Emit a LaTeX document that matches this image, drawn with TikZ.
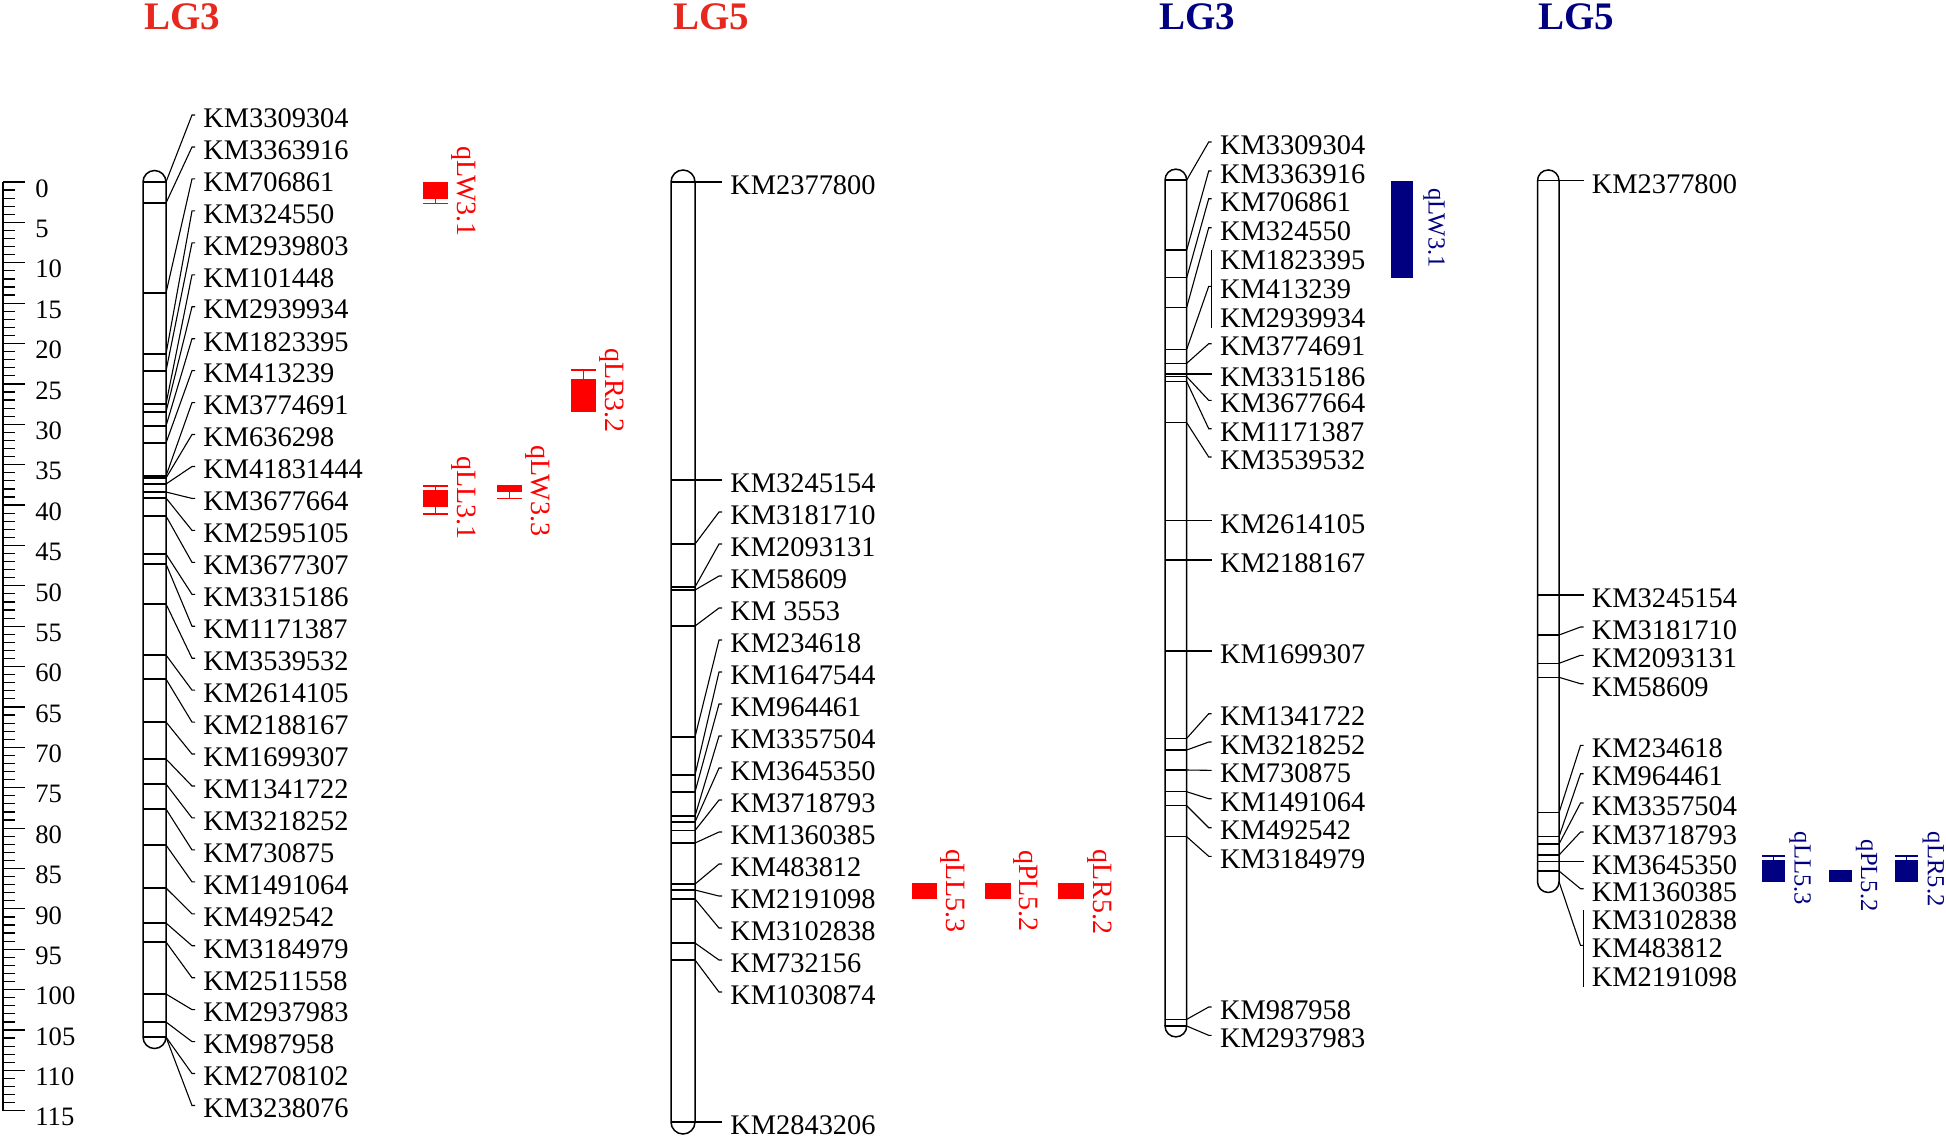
\documentclass[tikz,border=0pt]{standalone}
\usepackage{fontspec}
\setmainfont{Liberation Serif}
\usepackage{xcolor}

\definecolor{titlered}{RGB}{230,40,30}
\definecolor{qtlred}{RGB}{255,0,0}
\definecolor{qtlblue}{RGB}{0,0,128}

\tikzset{
  chrom/.style={line width=0.75pt},
  band/.style={line width=0.6pt},
  conn/.style={line width=0.55pt},
  marker/.style={font=\fontsize{14.2}{17}\selectfont, inner xsep=4pt, inner ysep=0pt, anchor=west},
  axislabel/.style={font=\fontsize{13.3}{15}\selectfont, inner sep=0pt, anchor=west},
  lgtitle/.style={font=\fontsize{19.5}{22}\selectfont\bfseries, inner sep=0pt, anchor=base},
  redqtl/.style={fill=qtlred, draw=none},
  bluqtl/.style={fill=qtlblue, draw=none},
  redwhisk/.style={draw=qtlred, line width=0.55pt},
  bluwhisk/.style={draw=qtlblue, line width=0.55pt},
  redqtllabel/.style={font=\fontsize{14}{16}\selectfont, text=qtlred, inner sep=0pt, rotate=-90},
  bluqtllabel/.style={font=\fontsize{12.3}{14}\selectfont, text=qtlblue, inner sep=0pt, rotate=-90}
}

\begin{document}
\begin{tikzpicture}[x=0.5pt, y=-0.5pt]
    \useasboundingbox (0,0) rectangle (1946,1137);

    % titles
    \node[lgtitle, text=titlered] (tLGthreeR) at (182, 29.3) {LG3};
    \node[lgtitle, text=titlered] (tLGfiveR) at (711, 29.3) {LG5};
    \node[lgtitle, text=qtlblue] (tLGthreeB) at (1197, 29.3) {LG3};
    \node[lgtitle, text=qtlblue] (tLGfiveB) at (1576, 29.3) {LG5};

    % cM scale
    \draw [chrom] (3, 182) -- (3, 1110.7);
    \foreach \t in {0,...,115}
      \draw [band] (3, {182+8.076*\t}) -- (15, {182+8.076*\t});
    \foreach \t in {0,5,...,115} {
      \draw [band] (3, {182+8.076*\t}) -- (25, {182+8.076*\t});
      \node[axislabel] (ax\t) at (35, {188.5+8.076*\t}) {\t};
    }

    % LG3 (red)
    \draw [chrom] (143, 1037) -- (143, 182)
      arc[start angle=180, end angle=360, radius=11.5] -- (166, 1037)
      arc[start angle=0, end angle=180, radius=11.5] -- cycle;
    \foreach \i/\my/\ly/\name in {
      1/182/118/KM3309304, 2/203/150/KM3363916, 3/293/181.9/KM706861,
      4/354/213.9/KM324550, 5/371/245.8/KM2939803, 6/404/277.8/KM101448,
      7/412/309.7/KM2939934, 8/426/341.7/KM1823395, 9/443/373.6/KM413239,
      10/476/405.6/KM3774691, 11/478/437.5/KM636298, 12/484/469.5/KM41831444,
      13/492/501.4/KM3677664, 14/498/533.4/KM2595105, 15/516/565.3/KM3677307,
      16/554/597.3/KM3315186, 17/564/629.2/KM1171387, 18/604/661.2/KM3539532,
      19/655/693.1/KM2614105, 20/679/725.1/KM2188167, 21/722/757/KM1699307,
      22/759/789/KM1341722, 23/784/820.9/KM3218252, 24/809/852.9/KM730875,
      25/845/884.8/KM1491064, 26/888/916.8/KM492542, 27/923/948.7/KM3184979,
      28/942/980.7/KM2511558, 29/994/1012.6/KM2937983, 30/1022/1044.6/KM987958,
      31/1037/1076.5/KM2708102, 32/1037/1108.5/KM3238076} {
      \coordinate (r3m\i) at (166, \my);
      \node[marker] (r3l\i) at (195, \ly) {\name};
      \draw [band] (143, \my) -- (r3m\i);
      \draw [conn] (r3m\i) -- ([xshift=-1.5pt, yshift=1.5pt]r3l\i.west)
        -- ([yshift=1.5pt]r3l\i.west);
    }

    % QTL on LG3 (red)
    \fill [redqtl] (422.7, 181.7) rectangle (447.7, 199);
    \draw [redwhisk] (435.2, 199) -- (435.2, 203.7) (422.7, 203.7) -- (447.7, 203.7);
    \node[redqtllabel] (rqLWthreeone) at (464.2, 191.7) {qLW3.1};

    \fill [redqtl] (571, 379) rectangle (595.7, 412.3);
    \draw [redwhisk] (583.3, 379) -- (583.3, 370) (571, 370) -- (595.7, 370);
    \node[redqtllabel] (rqLRthreetwo) at (611.5, 390.5) {qLR3.2};

    \fill [redqtl] (497.3, 485) rectangle (521.7, 491.7);
    \draw [redwhisk] (509.5, 491.7) -- (509.5, 498.3) (497.3, 498.3) -- (521.7, 498.3);
    \node[redqtllabel] (rqLWthreethree) at (537.5, 491) {qLW3.3};

    \fill [redqtl] (423.3, 490) rectangle (448.3, 506.7);
    \draw [redwhisk] (435.8, 486) -- (435.8, 514)
      (423.3, 486) -- (448.3, 486) (423.3, 514) -- (448.3, 514);
    \node[redqtllabel] (rqLLthreeone) at (464.2, 498) {qLL3.1};

    % LG5 (red)
    \draw [chrom] (671, 1122) -- (671, 182)
      arc[start angle=180, end angle=360, radius=12] -- (695, 1122)
      arc[start angle=0, end angle=180, radius=12] -- cycle;
    \foreach \i/\my/\ly/\name in {
      1/182/185/KM2377800, 2/480/483/KM3245154, 3/544/515/KM3181710,
      4/587/547/KM2093131, 5/590/579/KM58609, 6/626/611/{KM 3553},
      7/737/643/KM234618, 8/775/675/KM1647544, 9/792/707/KM964461,
      10/816/739/KM3357504, 11/822/771/KM3645350, 12/830.5/803/KM3718793,
      13/843/835/KM1360385, 14/884/867/KM483812, 15/890/899/KM2191098,
      16/899/931/KM3102838, 17/943/963/KM732156, 18/960/995/KM1030874,
      19/1122/1125/KM2843206} {
      \coordinate (r5m\i) at (695, \my);
      \node[marker] (r5l\i) at (722, \ly) {\name};
      \draw [band] (671, \my) -- (r5m\i);
      \draw [conn] (r5m\i) -- ([xshift=-1.5pt, yshift=1.5pt]r5l\i.west)
        -- ([yshift=1.5pt]r5l\i.west);
    }

    % QTL on LG5 (red)
    \fill [redqtl] (911.7, 883) rectangle (936.7, 899);
    \node[redqtllabel] (rqLLfivethree) at (952.5, 891) {qLL5.3};
    \fill [redqtl] (985, 883) rectangle (1010.7, 899);
    \node[redqtllabel] (rqPLfivetwo) at (1025.8, 891) {qPL5.2};
    \fill [redqtl] (1058.3, 883) rectangle (1084.3, 899);
    \node[redqtllabel] (rqLRfivetwo) at (1100, 891.7) {qLR5.2};

    % LG3 (blue)
    \draw [chrom] (1165, 1026) -- (1165, 180)
      arc[start angle=180, end angle=360, radius=10.85] -- (1186.7, 1026)
      arc[start angle=0, end angle=180, radius=10.85] -- cycle;
    \foreach \i/\my/\ly/\name in {
      1/180/145/KM3309304, 2/250/174/KM3363916, 3/277.7/201.7/KM706861,
      4/307.3/230.7/KM324550, 8/363.3/346.7/KM3774691, 9/374/377/KM3315186,
      10/376.7/403.3/KM3677664, 11/381.7/431.7/KM1171387, 12/422.7/460/KM3539532,
      13/520.7/523.7/KM2614105, 14/560/563/KM2188167, 15/651/654/KM1699307,
      16/738.3/716.7/KM1341722, 17/750/745/KM3218252, 18/770/773.3/KM730875,
      19/791.7/801.7/KM1491064, 20/805.7/830.7/KM492542, 21/836.7/859.3/KM3184979,
      22/1019.3/1010/KM987958, 23/1026/1038.3/KM2937983} {
      \coordinate (b3m\i) at (1186.7, \my);
      \node[marker] (b3l\i) at (1211.7, \ly) {\name};
      \draw [band] (1165, \my) -- (b3m\i);
      \draw [conn] (b3m\i) -- ([xshift=-1.5pt, yshift=1.5pt]b3l\i.west)
        -- ([yshift=1.5pt]b3l\i.west);
    }
    % three markers at one locus
    \coordinate (b3m5) at (1186.7, 349.3);
    \draw [band] (1165, 349.3) -- (b3m5);
    \node[marker] (b3l5) at (1211.7, 260) {KM1823395};
    \node[marker] (b3l6) at (1211.7, 289.3) {KM413239};
    \node[marker] (b3l7) at (1211.7, 318.3) {KM2939934};
    \draw [conn] (b3l5.north west) -- (b3l7.south west);
    \draw [conn] (b3m5) -- ([xshift=-1.5pt, yshift=1.5pt]b3l6.west)
      -- ([yshift=1.5pt]b3l6.west);

    % QTL on LG3 (blue)
    \fill [bluqtl] (1390.7, 180.7) rectangle (1413.3, 277.7);
    \node[bluqtllabel] (bqLWthreeone) at (1434, 228) {qLW3.1};

    % LG5 (blue)
    \draw [chrom] (1537.5, 881.7) -- (1537.5, 180.7)
      arc[start angle=180, end angle=360, radius=10.75] -- (1559, 881.7)
      arc[start angle=0, end angle=180, radius=10.75] -- cycle;
    \foreach \i/\my/\ly/\name in {
      1/180.7/183.7/KM2377800, 2/595/598/KM3245154, 3/635/630/KM3181710,
      4/663.3/658.3/KM2093131, 5/677.3/686.7/KM58609, 6/812.7/748.3/KM234618,
      7/836.7/776.7/KM964461, 8/844/806/KM3357504, 9/855/835/KM3718793,
      10/861.7/864.7/KM3645350, 11/871/891.7/KM1360385} {
      \coordinate (b5m\i) at (1559, \my);
      \node[marker] (b5l\i) at (1583.5, \ly) {\name};
      \draw [band] (1537.5, \my) -- (b5m\i);
      \draw [conn] (b5m\i) -- ([xshift=-1.5pt, yshift=1.5pt]b5l\i.west)
        -- ([yshift=1.5pt]b5l\i.west);
    }
    % three markers at one locus
    \coordinate (b5m12) at (1559, 881.7);
    \node[marker] (b5l12) at (1583.5, 920) {KM3102838};
    \node[marker] (b5l13) at (1583.5, 948.3) {KM483812};
    \node[marker] (b5l14) at (1583.5, 976.7) {KM2191098};
    \draw [conn] (b5l12.north west) -- (b5l14.south west);
    \draw [conn] (b5m12) -- ([xshift=-1.5pt, yshift=1.5pt]b5l13.west)
      -- ([yshift=1.5pt]b5l13.west);

    % QTL on LG5 (blue)
    \fill [bluqtl] (1762.3, 860) rectangle (1785, 881.7);
    \draw [bluwhisk] (1773.7, 856) -- (1773.7, 860) (1762.3, 856) -- (1785, 856);
    \node[bluqtllabel] (bqLLfivethree) at (1800, 868.3) {qLL5.3};
    \fill [bluqtl] (1829, 870) rectangle (1851.7, 881.7);
    \node[bluqtllabel] (bqPLfivetwo) at (1866.7, 875.8) {qPL5.2};
    \fill [bluqtl] (1895, 860) rectangle (1917.7, 881.7);
    \draw [bluwhisk] (1906.3, 856) -- (1906.3, 860) (1895, 856) -- (1917.7, 856);
    \node[bluqtllabel] (bqLRfivetwo) at (1933.3, 869.2) {qLR5.2};
\end{tikzpicture}
\end{document}
